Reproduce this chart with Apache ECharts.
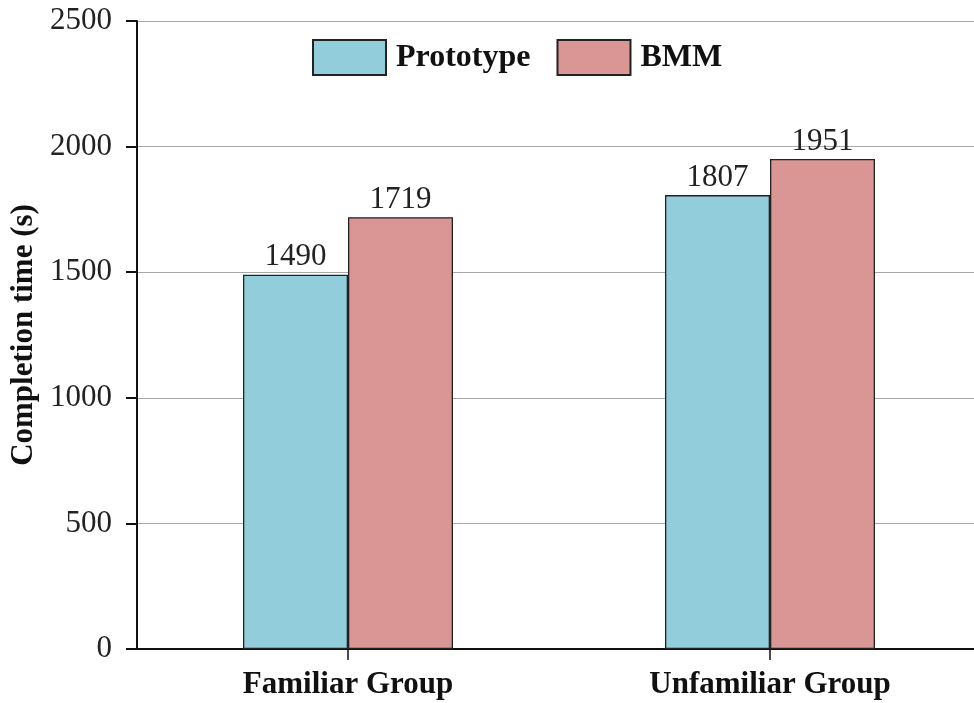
<!DOCTYPE html>
<html>
<head>
<meta charset="utf-8">
<script src="https://cdn.jsdelivr.net/npm/echarts@6/dist/echarts.min.js"></script>
<style>html,body{margin:0;padding:0;background:#fff}#c{width:974px;height:703px}</style>
</head>
<body>
<div id="c"></div>
<script>
var categories = ['Familiar Group', 'Unfamiliar Group'];
var prototypeValues = [1490, 1807];
var bmmValues = [1719, 1951];
var yTicks = [0, 500, 1000, 1500, 2000, 2500];

var serif = '"Liberation Serif", "Times New Roman", serif';
var chart = echarts.init(document.getElementById('c'), null, {renderer: 'canvas'});
chart.setOption({
  animation: false,
  backgroundColor: '#ffffff',
  textStyle: {fontFamily: serif},
  legend: {
    left: 307, top: 34,
    icon: 'rect',
    itemWidth: 73, itemHeight: 35, itemGap: 26,
    textStyle: {fontFamily: serif, fontWeight: 'bold', fontSize: 32, color: '#111', padding: [0, 0, 0, 5]},
    data: ['Prototype', 'BMM']
  },
  grid: {left: 137, top: 21, width: 844, bottom: 54, containLabel: false, outerBoundsMode: 'none'},
  xAxis: {
    type: 'category',
    data: categories,
    axisLine: {lineStyle: {color: '#111', width: 2}},
    axisTick: {show: true, alignWithLabel: true, length: 11, lineStyle: {color: '#111', width: 1.5}},
    axisLabel: {margin: 20, fontFamily: serif, fontWeight: 'bold', fontSize: 31, color: '#111'}
  },
  yAxis: {
    type: 'value',
    min: yTicks[0], max: yTicks[yTicks.length - 1], interval: 500,
    name: 'Completion time (s)',
    nameLocation: 'middle',
    nameGap: 88,
    nameTextStyle: {fontFamily: serif, fontWeight: 'bold', fontSize: 31, color: '#111'},
    axisLine: {show: true, lineStyle: {color: '#111', width: 2}},
    axisTick: {show: true, length: 11, lineStyle: {color: '#111', width: 2}},
    axisLabel: {margin: 25, fontFamily: serif, fontSize: 31, color: '#222', formatter: function (v) { return String(v); }},
    splitLine: {show: true, lineStyle: {color: '#a8a8a8', width: 1}}
  },
  series: [
    {
      name: 'Prototype', type: 'bar', data: prototypeValues,
      barWidth: 105, barGap: '0%',
      itemStyle: {color: '#92CDDC', borderColor: '#222', borderWidth: 1.3},
      label: {show: true, position: 'top', distance: 2, fontFamily: serif, fontSize: 31, color: '#222'}
    },
    {
      name: 'BMM', type: 'bar', data: bmmValues,
      barWidth: 105, barGap: '0%',
      itemStyle: {color: '#D99694', borderColor: '#222', borderWidth: 1.3},
      label: {show: true, position: 'top', distance: 2, fontFamily: serif, fontSize: 31, color: '#222'}
    }
  ]
});
</script>
</body>
</html>
